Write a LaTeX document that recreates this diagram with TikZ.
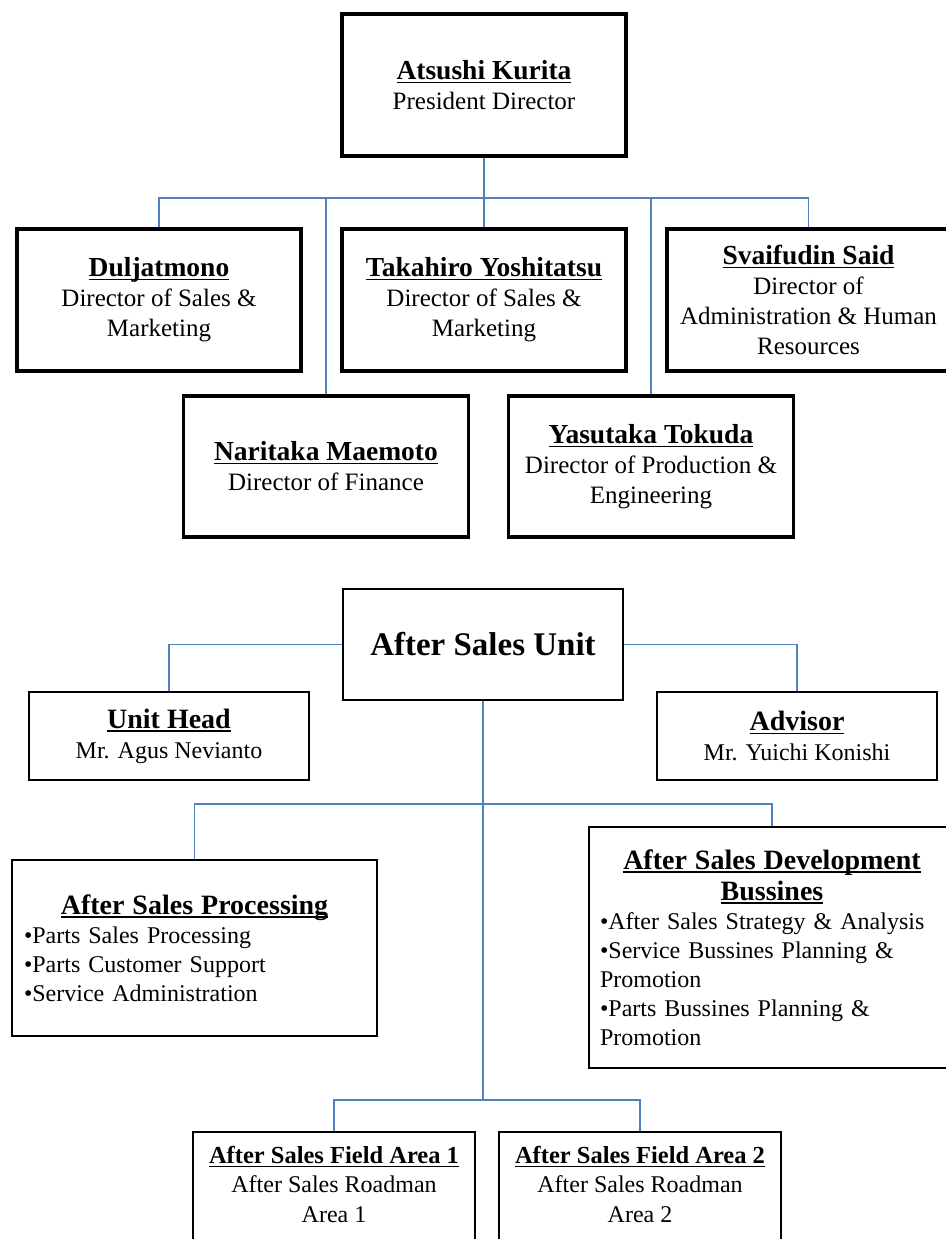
\documentclass[tikz,border=0pt]{standalone}
\usepackage{fontspec}
\setmainfont{Liberation Serif}
\definecolor{linkblue}{RGB}{79,129,189}
\newsavebox{\ulnbox}
\newcommand{\uln}[1]{\leavevmode\sbox\ulnbox{#1}\rlap{\rule[-3.5pt]{\wd\ulnbox}{1.3pt}}\usebox\ulnbox}
\newcommand{\ttl}[1]{{\bfseries\fontsize{27.5}{30}\selectfont\uln{#1}}}
\newcommand{\sttl}[1]{{\bfseries\fontsize{28}{30}\selectfont\uln{#1}}}
\newcommand{\fttl}[1]{{\bfseries\fontsize{24.5}{29.5}\selectfont\uln{#1}}}

\begin{document}
\begin{tikzpicture}[x=1pt, y=-1pt,
        topbox/.style={draw, line width=3.5pt, minimum width=284pt, minimum height=142pt,
            align=center, font=\fontsize{25}{30}\selectfont},
        unitbox/.style={draw, line width=1.8pt, align=center, font=\fontsize{24}{30}\selectfont},
        link/.style={draw=linkblue, line width=1.5pt}]
        \useasboundingbox (0,0) rectangle (945,1239);

        % directors
        \node [topbox] (pres) at (484,85) {\ttl{Atsushi Kurita}\\ President Director};
        \node [topbox] (dulj) at (159,300) {\ttl{Duljatmono}\\ Director of Sales \&\\ Marketing};
        \node [topbox] (taka) at (484,300) {\ttl{Takahiro Yoshitatsu}\\ Director of Sales \&\\ Marketing};
        \node [topbox, minimum width=283pt] (svai) at (808.5,300)
            {\ttl{Svaifudin Said}\\ Director of\\ Administration \& Human\\ Resources};
        \node [topbox, minimum width=285pt, minimum height=141pt] (nari) at (326,466.5)
            {\ttl{Naritaka Maemoto}\\ Director of Finance};
        \node [topbox, minimum width=285pt, minimum height=141pt] (yasu) at (651,466.5)
            {\ttl{Yasutaka Tokuda}\\ Director of Production \&\\ Engineering};

        \coordinate (topbus) at (484,198);
        \draw [link] (pres.south) -- (topbus) -- (taka.north);
        \draw [link] (dulj.north) -- (dulj.north |- topbus) -- (svai.north |- topbus) -- (svai.north);
        \draw [link] (nari.north) -- (nari.north |- topbus);
        \draw [link] (yasu.north) -- (yasu.north |- topbus);

        % after sales unit
        \node [unitbox, minimum width=280pt, minimum height=111pt,
            font=\bfseries\fontsize{33}{36}\selectfont] (asu) at (483,644.5) {After Sales Unit};
        \node [unitbox, minimum width=280pt, minimum height=88pt] (head) at (169,736)
            {\sttl{Unit Head}\\ Mr. Agus Nevianto};
        \node [unitbox, minimum width=280pt, minimum height=88pt] (advi) at (797,736)
            {\sttl{Advisor}\\ Mr. Yuichi Konishi};
        \draw [link] (asu.west) -| (head.north);
        \draw [link] (asu.east) -| (advi.north);

        \node [unitbox, minimum height=176pt, text width=341pt, inner xsep=12pt, align=left,
            font=\fontsize{24}{29}\selectfont] (asp) at (194.5,948)
            {{\centering\sttl{After Sales Processing}\par}
            •Parts Sales Processing\\ •Parts Customer Support\\ •Service Administration};
        \node [unitbox, minimum height=241pt, text width=344pt, inner xsep=11pt, align=left,
            font=\fontsize{24}{29}\selectfont] (asdb) at (772,947.5)
            {{\centering\bfseries\fontsize{28}{31}\selectfont
            \uln{After Sales Development}\\ \uln{Bussines}\par}
            •After Sales Strategy \& Analysis\\ •Service Bussines Planning \&\\ Promotion\\
            •Parts Bussines Planning \&\\ Promotion};

        \node [unitbox, minimum width=282pt, minimum height=134pt,
            font=\fontsize{24}{29.5}\selectfont] (field1) at (334,1199)
            {\fttl{After Sales Field Area 1}\\ After Sales Roadman\\ Area 1\\ \mbox{}};
        \node [unitbox, minimum width=282pt, minimum height=134pt,
            font=\fontsize{24}{29.5}\selectfont] (field2) at (640,1199)
            {\fttl{After Sales Field Area 2}\\ After Sales Roadman\\ Area 2\\ \mbox{}};

        \coordinate (lowbus) at (483,804);
        \coordinate (fieldbus) at (483,1100);
        \draw [link] (asu.south) -- (fieldbus);
        \draw [link] (asp.north) |- (lowbus) -| (asdb.north);
        \draw [link] (field1.north) |- (fieldbus) -| (field2.north);
    \end{tikzpicture}
\end{document}
